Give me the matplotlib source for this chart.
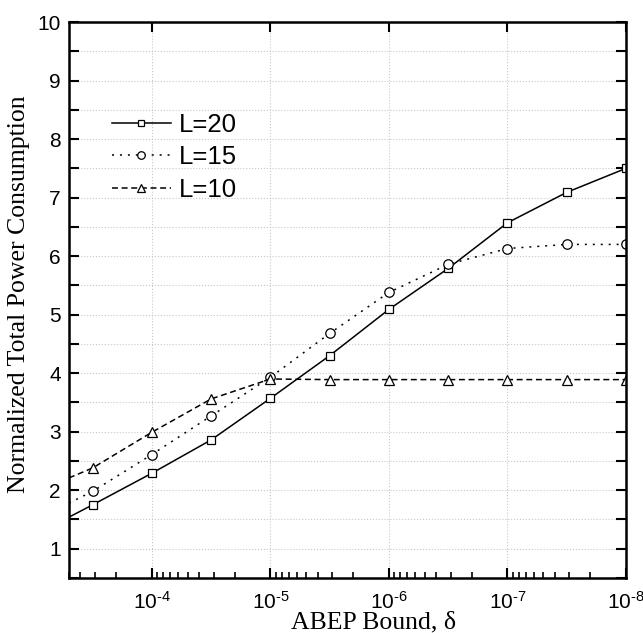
import matplotlib
matplotlib.use("Agg")
import matplotlib.pyplot as plt
import numpy as np
from matplotlib.ticker import LogLocator, MultipleLocator, NullFormatter, FuncFormatter

plt.rcParams['font.family'] = 'Liberation Sans'
plt.rcParams['mathtext.fontset'] = 'custom'
plt.rcParams['mathtext.rm'] = 'Liberation Sans'
plt.rcParams['mathtext.it'] = 'Liberation Sans:italic'
plt.rcParams['mathtext.default'] = 'regular'

# ABEP bound values (half-decade steps), plus the left edge where the curves start
delta = [3.16e-4, 1e-4, 3.16e-5, 1e-5, 3.16e-6, 1e-6, 3.16e-7, 1e-7, 3.16e-8, 1e-8]
delta_edge = 5e-4

power_L20 = [1.75, 2.29, 2.86, 3.57, 4.30, 5.09, 5.79, 6.57, 7.09, 7.50]
power_L15 = [1.98, 2.61, 3.27, 3.93, 4.68, 5.38, 5.86, 6.13, 6.20, 6.20]
power_L10 = [2.38, 2.99, 3.56, 3.90, 3.89, 3.89, 3.89, 3.89, 3.89, 3.89]
edge_L20, edge_L15, edge_L10 = 1.54, 1.78, 2.21

labels = ['L=20', 'L=15', 'L=10']

fig = plt.figure(figsize=(6.43, 6.33), dpi=100)
ax = fig.add_axes([0.1073, 0.0869, 0.8663, 0.8783])

styles = [('-', 's', 6), ((0, (1.3, 3.9)), 'o', 6.8), ((0, (3.9, 2.4)), '^', 6.8)]
series = [(edge_L20, power_L20), (edge_L15, power_L15), (edge_L10, power_L10)]
for (edge, vals), (ls, mk, ms), lab in zip(series, styles, labels):
    ax.plot([delta_edge] + delta, [edge] + vals, color='black', lw=1.1, ls=ls,
            marker=mk, markevery=list(range(1, len(delta) + 1)), ms=ms,
            mfc='white', mec='black', mew=0.9, label=lab)

ax.set_xscale('log')
ax.set_xlim(delta_edge, 1e-8)
ax.set_ylim(0.5, 10)

ax.xaxis.set_major_locator(LogLocator(base=10, numticks=10))
ax.xaxis.set_major_formatter(FuncFormatter(lambda v, p: r'$10^{\text{%d}}$' % round(np.log10(v))))
ax.xaxis.set_minor_locator(LogLocator(base=10, subs=range(2, 10), numticks=20))
ax.xaxis.set_minor_formatter(NullFormatter())
ax.yaxis.set_major_locator(MultipleLocator(1))
ax.yaxis.set_minor_locator(MultipleLocator(0.5))

ax.tick_params(axis='both', which='major', direction='in', labelsize=15, width=1.5, length=7)
ax.tick_params(axis='x', which='major', pad=9, top=True)
ax.tick_params(axis='x', which='minor', direction='in', width=1.2, length=4, top=False)
ax.tick_params(axis='y', which='major', pad=6, right=True)
ax.tick_params(axis='y', which='minor', direction='in', width=1.5, length=7, right=True)

ax.grid(True, axis='x', which='major', color='#c8c8c8', ls=':', lw=0.8)
ax.grid(True, axis='y', which='both', color='#c8c8c8', ls=':', lw=0.8)
ax.set_axisbelow(True)

for sp in ax.spines.values():
    sp.set_linewidth(1.8)

fig.text(374 / 643, 1 - 622 / 633, 'ABEP Bound, δ', family='Liberation Serif', fontsize=18.5,
         ha='center', va='center')
fig.text(19 / 643, 1 - 294 / 633, 'Normalized Total Power Consumption', family='Liberation Serif',
         fontsize=18.5, rotation=90, ha='center', va='center')

ax.legend(loc='upper left', bbox_to_anchor=(0.077, 0.836), frameon=False, fontsize=18.5,
          handlelength=2.3, handletextpad=0.3, labelspacing=0.32, borderpad=0, borderaxespad=0,
          numpoints=1, markerscale=0.8)

fig.savefig('out.png', dpi=100)
